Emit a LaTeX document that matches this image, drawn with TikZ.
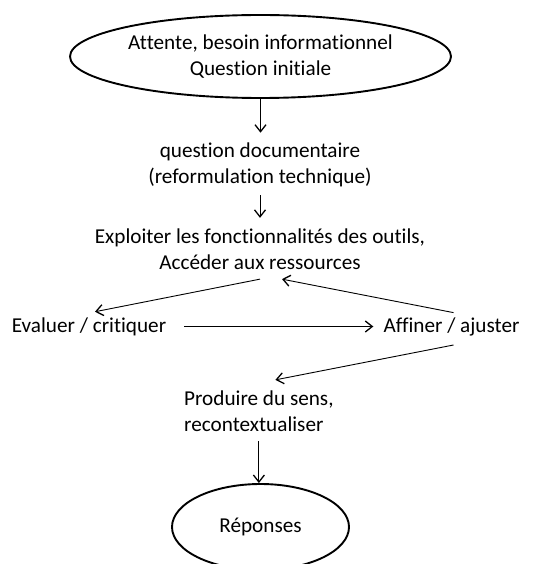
\documentclass[tikz,border=0pt]{standalone}
\usepackage{fontspec}
\setmainfont{Carlito}[Ligatures=NoCommon]
\usetikzlibrary{shapes.geometric,arrows.meta}
\begin{document}
\begin{tikzpicture}[x=1pt,y=-1pt,
  txt/.style={inner sep=0pt,align=center,font=\fontsize{21.2}{26}\selectfont},
  oval/.style={draw,ellipse,line width=1.9pt,inner sep=0pt,align=center,font=\fontsize{21.2}{26}\selectfont},
  arr/.style={line width=0.9pt,-{Straight Barb[length=7pt,width=11pt,line width=1.3pt]}}]
\clip (0,0) rectangle (543,564);
\fill[white] (0,0) rectangle (543,564);
\node[oval,minimum width=381pt,minimum height=83pt] (top) at (260.5,56.5) {Attente, besoin informationnel\\Question initiale};
\node[txt] (q) at (260,165) {question documentaire\\(reformulation technique)};
\node[txt] (ex) at (260,249.5) {Exploiter les fonctionnalités des outils,\\Accéder aux ressources};
\node[txt] (ev) at (89,327) {Evaluer / critiquer};
\node[txt] (af) at (451.5,327) {Affiner / ajuster};
\node[txt,align=left,anchor=west] (pr) at (184,411.5) {Produire du sens,\\recontextualiser};
\node[oval,minimum width=177pt,minimum height=86pt] (ans) at (260.5,527) {Réponses};
\draw[arr,shorten >=10pt] (top.south) -- (top.south |- q.north);
\draw[arr,shorten <=8pt,shorten >=11pt] (q.south) -- (q.south |- ex.north);
\draw[arr] ([yshift=-9pt]ex.south) -- ([xshift=6pt,yshift=6pt]ev.north);
\draw[arr] ([xshift=2pt,yshift=5pt]af.north) -- ([xshift=22pt,yshift=-9pt]ex.south);
\draw[arr,shorten <=18pt,shorten >=10pt] ([yshift=0.5pt]ev.east) -- ([yshift=0.5pt]af.west);
\draw[arr] ([xshift=2pt,yshift=-18pt]af.center) -- ([xshift=16.5pt,yshift=11pt]pr.north);
\draw[arr,shorten <=9pt] (pr.south) -- (pr.south |- ans.north);
\end{tikzpicture}
\end{document}
